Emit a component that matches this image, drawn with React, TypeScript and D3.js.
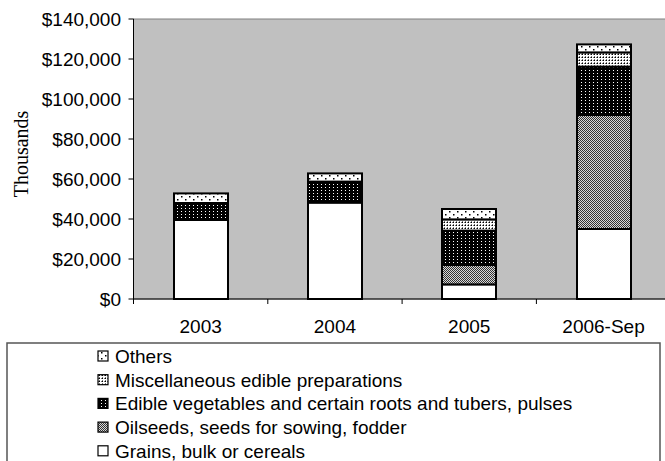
import React from "react";
import { scaleBand, scaleLinear, stack, format } from "d3";

const categories = ["2003", "2004", "2005", "2006-Sep"];
const grains = [39500, 48200, 7300, 35000];
const oilseeds = [0, 0, 9700, 57000];
const edibleVeg = [8500, 10500, 17200, 24200];
const misc = [0, 0, 5600, 7100];
const others = [4800, 4100, 5200, 4000];
const yTicks = [0, 20000, 40000, 60000, 80000, 100000, 120000, 140000];

const seriesNames = [
  "Grains, bulk or cereals",
  "Oilseeds, seeds for sowing, fodder",
  "Edible vegetables and certain roots and tubers, pulses",
  "Miscellaneous edible preparations",
  "Others",
];
const seriesKeys = ["grains", "oilseeds", "edibleVeg", "misc", "others"];
const fills = ["#ffffff", "url(#pOil)", "url(#pVeg)", "url(#pMisc)", "url(#pOth)"];

const App = () => {
  const width = 665;
  const height = 461;
  const margin = { top: 19, left: 133.5, bottom: 299, right: 670.7 };

  const rows = categories.map((c, i) => ({
    cat: c,
    grains: grains[i],
    oilseeds: oilseeds[i],
    edibleVeg: edibleVeg[i],
    misc: misc[i],
    others: others[i],
  }));
  const stacked = stack().keys(seriesKeys)(rows as any);

  const x = scaleBand()
    .domain(categories)
    .range([margin.left, margin.right])
    .paddingInner(0.6)
    .paddingOuter(0.3);
  const step = x.step();
  const y = scaleLinear().domain([0, 140000]).range([margin.bottom, margin.top]);
  const fmt = (v) => "$" + format(",")(v);

  const font = "'Liberation Sans', Arial, sans-serif";
  const legendOrder = [4, 3, 2, 1, 0];

  return (
    <svg
      width={width}
      height={height}
      style={{ position: "absolute", left: 0, top: 0, background: "#fff" }}
    >
      <defs>
        <pattern id="pOil" width="2" height="2" patternUnits="userSpaceOnUse">
          <rect width="2" height="2" fill="#d8d8d8" />
          <rect width="1" height="1" fill="#333" />
          <rect x="1" y="1" width="1" height="1" fill="#333" />
        </pattern>
        <pattern id="pVeg" width="4" height="3" patternUnits="userSpaceOnUse">
          <rect width="4" height="3" fill="#000" />
          <rect x="1" y="1" width="1" height="1" fill="#fff" />
        </pattern>
        <pattern id="pMisc" width="3" height="3" patternUnits="userSpaceOnUse">
          <rect width="3" height="3" fill="#fff" />
          <rect x="0" y="0" width="1" height="1" fill="#000" />
          <rect x="2" y="0" width="1" height="1" fill="#777" />
          <rect x="0" y="2" width="1" height="1" fill="#777" />
        </pattern>
        <pattern id="pOth" width="8" height="6" patternUnits="userSpaceOnUse">
          <rect width="8" height="6" fill="#fff" />
          <rect x="1" y="1" width="1.5" height="1.5" fill="#000" />
          <rect x="5" y="4" width="1.5" height="1.5" fill="#000" />
        </pattern>
      </defs>

      {/* plot area */}
      <rect
        x={margin.left}
        y={margin.top}
        width={margin.right - margin.left}
        height={margin.bottom - margin.top}
        fill="#c0c0c0"
        stroke="#808080"
        strokeWidth={1}
      />

      {/* bars */}
      {stacked.map((s, si) => (
        <g key={seriesKeys[si]}>
          {s.map((d, i) =>
            d[1] - d[0] > 0 ? (
              <rect
                key={i}
                x={Math.round(x(categories[i]))}
                y={y(d[1])}
                width={Math.round(x.bandwidth())}
                height={y(d[0]) - y(d[1])}
                fill={fills[si]}
                stroke="#000"
                strokeWidth={2}
              />
            ) : null
          )}
        </g>
      ))}

      {/* y axis */}
      <line x1={margin.left} x2={margin.left} y1={margin.top} y2={margin.bottom} stroke="#000" />
      {yTicks.map((t) => (
        <g key={t}>
          <line x1={margin.left - 5} x2={margin.left} y1={y(t)} y2={y(t)} stroke="#000" />
          <text
            x={121}
            y={y(t)}
            dy="0.35em"
            textAnchor="end"
            fontFamily={font}
            fontSize={19}
          >
            {fmt(t)}
          </text>
        </g>
      ))}
      <text
        transform={`translate(28, 154) rotate(-90)`}
        textAnchor="middle"
        fontFamily="'Liberation Serif', 'Times New Roman', serif"
        fontSize={20}
      >
        Thousands
      </text>

      {/* x axis */}
      <line x1={margin.left} x2={margin.right} y1={margin.bottom} y2={margin.bottom} stroke="#000" />
      {categories.map((c, i) => {
        const left = margin.left + i * step;
        return (
          <g key={c}>
            <line x1={left} x2={left} y1={margin.bottom} y2={margin.bottom + 5} stroke="#000" />
            <text
              x={x(c) + x.bandwidth() / 2}
              y={333}
              textAnchor="middle"
              fontFamily={font}
              fontSize={19}
            >
              {c}
            </text>
          </g>
        );
      })}

      {/* legend */}
      <rect x={7} y={343} width={653} height={130} fill="#fff" stroke="#555" strokeWidth={1.5} />
      {legendOrder.map((si, r) => {
        const base = 363 + r * 23.7;
        return (
          <g key={si}>
            <rect x={98} y={base - 12} width={10} height={10} fill={fills[si]} stroke="#000" strokeWidth={1.2} />
            <text x={115} y={base} fontFamily={font} fontSize={19}>
              {seriesNames[si]}
            </text>
          </g>
        );
      })}
    </svg>
  );
};

export default App;
